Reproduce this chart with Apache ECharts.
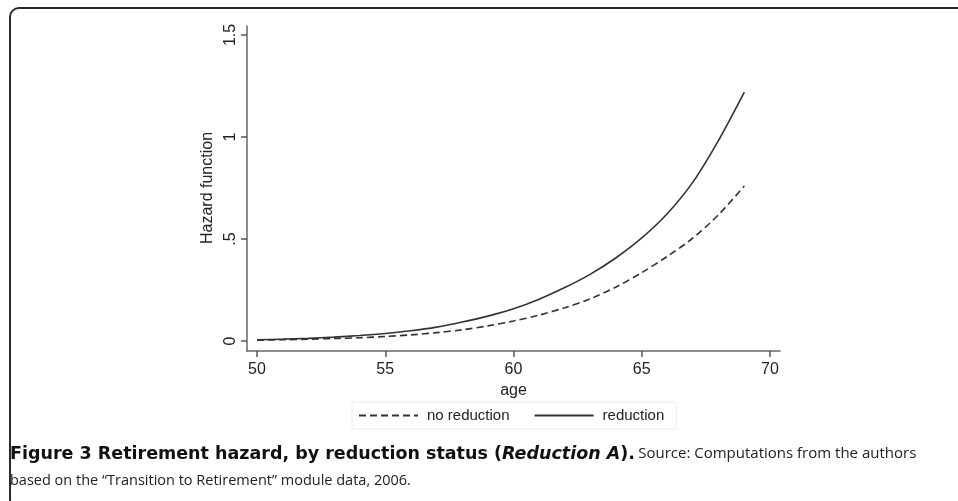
<!DOCTYPE html>
<html>
<head>
<meta charset="utf-8">
<script src="https://cdn.jsdelivr.net/npm/echarts@6/dist/echarts.min.js"></script>
<style>html,body{margin:0;padding:0;background:#fff}#c{width:958px;height:501px}</style>
</head>
<body>
<div id="c"></div>
<script>
var ages = [50,51,52,53,54,55,56,57,58,59,60,61,62,63,64,65,66,67,68,69];
var noReduction = [0.004,0.006,0.009,0.012,0.016,0.022,0.030,0.041,0.055,0.074,0.098,0.127,0.163,0.207,0.265,0.335,0.415,0.505,0.62,0.76];
var reduction = [0.006,0.009,0.013,0.019,0.027,0.037,0.050,0.068,0.093,0.122,0.158,0.205,0.262,0.328,0.408,0.505,0.625,0.78,0.985,1.22];
var xRange = [50, 70], xStep = 5;
var yRange = [0, 1.5], yStep = 0.5;
var seriesNames = ['no reduction','reduction'];

function pairs(vals){ return ages.map(function(a,i){ return [a, vals[i]]; }); }
function yFmt(v){ if (v === 0) return '0'; var s = String(v); return s.indexOf('0.') === 0 ? s.slice(1) : s; }

var chart = echarts.init(document.getElementById('c'));
var axisColor = '#666';
var lblFont = { fontFamily: 'Liberation Sans', fontSize: 16, color: '#222' };
chart.setOption({
  animation: false,
  backgroundColor: '#fff',
  grid: [
    { left: 247, right: 178, top: 26, bottom: 150 },
    { left: 257, right: 188, top: 35, bottom: 160 }
  ],
  xAxis: [
    { gridIndex: 0, type: 'value', min: 0, max: 1,
      axisLine: { onZero: false, lineStyle: { color: axisColor, width: 1.5 } },
      axisTick: { show: false }, axisLabel: { show: false }, splitLine: { show: false } },
    { gridIndex: 1, type: 'value', min: xRange[0], max: xRange[1], interval: xStep, offset: 10,
      name: 'age', nameLocation: 'middle', nameGap: 23,
      nameTextStyle: { fontFamily: 'Liberation Sans', fontSize: 16, color: '#222' },
      axisLine: { show: true, onZero: false, lineStyle: { opacity: 0 } },
      axisTick: { show: true, length: 6, lineStyle: { color: '#555', width: 1.5, opacity: 1 } },
      axisLabel: Object.assign({ margin: 11 }, lblFont),
      splitLine: { show: false } }
  ],
  yAxis: [
    { gridIndex: 0, type: 'value', min: 0, max: 1,
      axisLine: { show: true, onZero: false, lineStyle: { color: axisColor, width: 1.5 } },
      axisTick: { show: false }, axisLabel: { show: false }, splitLine: { show: false } },
    { gridIndex: 1, type: 'value', min: yRange[0], max: yRange[1], interval: yStep, offset: 10,
      name: 'Hazard function', nameLocation: 'middle', nameGap: 26,
      nameTextStyle: { fontFamily: 'Liberation Sans', fontSize: 16, color: '#222' },
      axisLine: { show: true, onZero: false, lineStyle: { opacity: 0 } },
      axisTick: { show: true, length: 6, lineStyle: { color: '#555', width: 1.5, opacity: 1 } },
      axisLabel: Object.assign({ rotate: 90, margin: 8, formatter: yFmt }, lblFont),
      splitLine: { show: false } }
  ],
  legend: {
    left: 352, top: 402,
    data: seriesNames,
    itemWidth: 59, itemHeight: 14, itemGap: 24,
    padding: [6, 12, 6, 6],
    borderColor: '#ececec', borderWidth: 1,
    itemStyle: { opacity: 0 },
    textStyle: { fontFamily: 'Liberation Sans', fontSize: 15, color: '#222', padding: [0,0,0,4] }
  },
  series: [
    { name: seriesNames[0], type: 'line', xAxisIndex: 1, yAxisIndex: 1, data: pairs(noReduction), smooth: 0.3, symbol: 'none',
      lineStyle: { color: '#333', width: 1.6, type: [7, 4] }, itemStyle: { color: '#333' } },
    { name: seriesNames[1], type: 'line', xAxisIndex: 1, yAxisIndex: 1, data: pairs(reduction), smooth: 0.3, symbol: 'none',
      lineStyle: { color: '#333', width: 1.6 }, itemStyle: { color: '#333' } }
  ],
  graphic: [
    { type: 'rect', shape: { x: 10, y: 8, width: 1000, height: 500, r: 9 }, style: { fill: 'none', stroke: '#2a2a2a', lineWidth: 2 }, silent: true },
    { type: 'text', left: 10, top: 445, style: {
        text: '{b|Figure 3 Retirement hazard, by reduction status (}{bi|Reduction A}{b|).} {r|Source: Computations from the authors}',
        rich: {
          b: { fontFamily: 'DejaVu Sans', fontWeight: 'bold', fontSize: 17.5, fill: '#111' },
          bi: { fontFamily: 'DejaVu Sans', fontWeight: 'bold', fontStyle: 'italic', fontSize: 17.5, fill: '#111' },
          r: { fontFamily: 'Open Sans', fontSize: 15, fill: '#222' }
        } } },
    { type: 'text', left: 10, top: 473, style: {
        text: 'based on the \u201cTransition to Retirement\u201d module data, 2006.',
        fontFamily: 'Open Sans', fontSize: 14.5, fill: '#222' } }
  ]
});
</script>
</body>
</html>
